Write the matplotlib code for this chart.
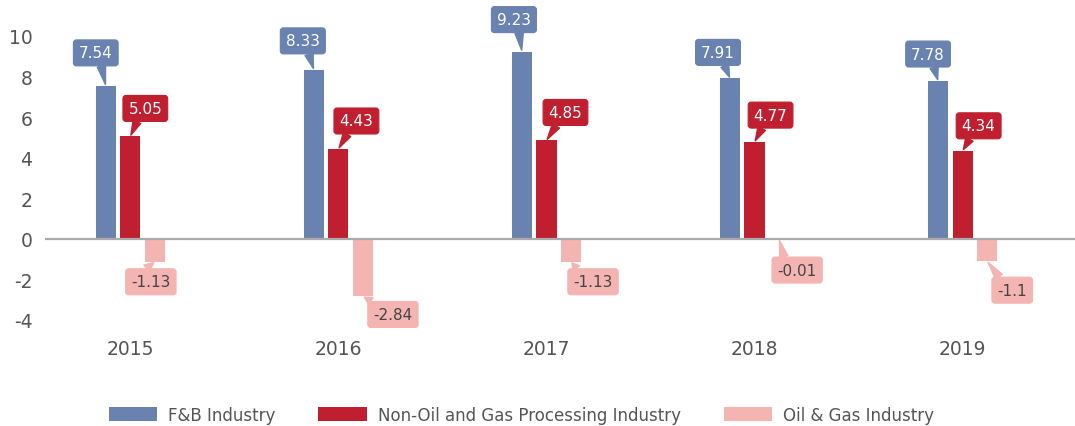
import matplotlib

matplotlib.use("Agg")
import matplotlib.pyplot as plt
import numpy as np

plt.rcParams["axes.unicode_minus"] = False

years = ["2015", "2016", "2017", "2018", "2019"]
fnb = [7.54, 8.33, 9.23, 7.91, 7.78]
non_oil = [5.05, 4.43, 4.85, 4.77, 4.34]
oil_gas = [-1.13, -2.84, -1.13, -0.01, -1.1]
series_names = ["F&B Industry", "Non-Oil and Gas Processing Industry", "Oil & Gas Industry"]

BLUE = "#6a82b0"
RED = "#c01f30"
PINK = "#f3b4b2"
GREY = "#555555"

# callout placement (pixel offsets of the label box from the bar end)
blue_off = [(-10, 33), (-11, 29), (-8, 32), (-12, 26), (-10, 27)]
red_off = [(15, 28), (18, 28), (19, 28), (16, 27), (16, 25)]
pink_off = [(-4, -20), (30, -18), (22, -20), (18, -31), (25, -29)]

fig = plt.figure(figsize=(10.75, 4.27), dpi=100)
ax = fig.add_axes([45 / 1075, 1 - 321 / 427, 1 - 45 / 1075, (321 - 37) / 427])

x = np.arange(len(years))
w = 0.097
step = 0.118
ax.bar(x - step, fnb, w, color=BLUE, label=series_names[0], zorder=2)
ax.bar(x, non_oil, w, color=RED, label=series_names[1], zorder=2)
ax.bar(x + step, oil_gas, w, color=PINK, label=series_names[2], zorder=2)
ax.axhline(0, color="#aaaaaa", linewidth=1.6, zorder=3)


def callout(xv, yv, off, fc, tc, rel):
    ax.annotate(
        f"{yv:g}", xy=(xv, yv), xytext=off, textcoords="offset pixels",
        ha="center", va="center", fontsize=11, color=tc, annotation_clip=False,
        bbox=dict(boxstyle="round,pad=0.36,rounding_size=0.2", fc=fc, ec=fc, lw=0.8),
        arrowprops=dict(arrowstyle="wedge,tail_width=0.55,shrink_factor=0.5",
                        fc=fc, ec=fc, relpos=rel, shrinkA=0, shrinkB=1),
        zorder=5,
    )


for i in range(len(years)):
    callout(x[i] - step, fnb[i], blue_off[i], BLUE, "white", (0.63, 0.0))
    callout(x[i], non_oil[i], red_off[i], RED, "white", (0.33, 0.0))
    callout(x[i] + step, oil_gas[i], pink_off[i], PINK, "#444444", (0.2, 1.0))

ax.set_xlim(-0.41, 4.54)
ax.set_ylim(-4, 10)
ax.set_yticks(range(-4, 11, 2))
ax.set_xticks(x)
ax.set_xticklabels(years)
ax.tick_params(axis="y", length=0, pad=9, labelsize=13.5, labelcolor=GREY)
ax.tick_params(axis="x", length=0, pad=14, labelsize=13.5, labelcolor=GREY)
for s in ax.spines.values():
    s.set_visible(False)

fig.legend(loc="lower center", bbox_to_anchor=(0.485, -0.03), ncol=3, frameon=False,
           fontsize=12, labelcolor=GREY, handlelength=2.9, handleheight=0.85,
           handletextpad=0.65, columnspacing=2.6)

fig.savefig("out.png", dpi=100)
plt.close(fig)
